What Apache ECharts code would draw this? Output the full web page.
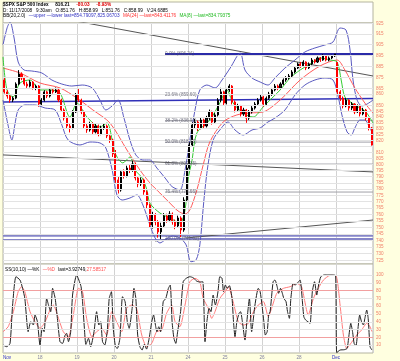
<!DOCTYPE html>
<html><head><meta charset="utf-8">
<script src="https://cdn.jsdelivr.net/npm/echarts@6.0.0/dist/echarts.min.js"></script>
<style>html,body{margin:0;padding:0;background:#FFFFE0}#c{width:400px;height:361px}</style>
</head><body><div id="c"></div>
<script>
// ---- data ----
const days = ['11/17','11/18','11/19','11/20','11/21','11/24','11/25','11/26','11/28','12/01'];
const times = ['9:30','10:00','10:30','11:00','11:30','12:00','12:30','13:00','13:30','14:00','14:30','15:00','15:30'];
const dayLabels = ['Nov','18','19','20','21','24','25','26','28','Dec'];

const opens = [872.6,862.0,858.3,854.8,856.5,869.0,878.0,874.4,869.0,867.2,870.8,865.5,867.2,
851.3,854.8,862.0,858.3,863.7,862.0,863.7,854.8,846.1,839.1,832.3,830.6,844.4,
859.2,854.8,844.4,832.3,828.9,834.1,827.2,832.3,825.5,830.6,832.3,823.8,820.4,
808.7,787.4,779.3,793.9,790.6,797.1,795.5,800.4,789.0,784.1,787.4,777.7,767.4,
751.8,759.5,754.1,746.4,751.0,758.8,755.6,760.3,754.1,751.0,757.2,747.9,771.3,
797.1,816.2,833.2,835.7,830.6,837.4,832.3,839.1,844.4,835.7,841.8,854.8,862.0,
852.2,863.7,867.2,853.1,846.1,849.6,842.7,846.1,839.1,844.4,847.8,851.3,854.8,
857.5,851.3,856.5,860.1,863.7,867.2,865.5,869.0,872.6,874.4,876.2,879.8,883.4,
887.1,885.3,888.9,883.5,887.1,890.7,888.9,892.6,890.7,894.4,890.7,892.6,894.4,
888.6,862.0,856.5,849.6,854.8,847.8,851.3,844.4,849.6,842.7,846.1,839.1,830.6];
const highs = [874.5,863.5,859.5,858.0,870.5,881.5,879.5,875.5,871.0,872.5,871.5,868.5,868.0,
856.5,863.5,863.0,865.5,865.0,865.9,864.5,856.0,847.5,840.5,834.0,846.0,861.0,
864.5,856.0,845.5,834.0,836.0,835.5,834.0,833.5,832.5,834.5,833.5,825.5,821.5,
812.0,790.0,795.5,796.0,799.0,799.5,803.0,801.5,790.5,789.5,788.5,779.0,768.5,
762.0,761.0,755.5,753.5,761.0,760.5,762.5,761.5,756.0,759.0,758.5,773.5,800.0,
818.5,835.5,838.5,837.0,839.5,838.5,841.0,846.5,845.5,843.5,856.5,865.6,863.0,
865.5,868.9,868.0,854.5,851.5,850.5,848.0,847.0,846.0,849.5,853.0,856.5,859.5,
858.5,858.0,862.0,865.5,869.0,868.5,870.5,874.0,876.0,878.0,881.5,885.0,888.5,
889.0,890.5,889.5,888.5,892.5,891.5,894.0,893.5,896.0,895.0,894.0,895.5,896.3,
888.6,863.5,858.0,856.5,855.5,853.0,852.0,851.0,850.5,848.0,847.0,840.0,831.5];
const lows = [860.5,856.0,852.5,853.0,855.5,868.0,872.5,867.5,865.5,866.0,864.0,863.5,849.0,
849.5,853.5,856.5,857.0,860.5,861.0,853.0,844.5,837.0,830.0,826.8,829.5,843.5,
853.0,842.5,830.5,826.5,827.5,825.5,826.0,823.5,824.5,829.0,822.0,818.0,806.2,
785.0,776.5,778.0,788.5,789.5,793.0,794.0,787.0,781.5,782.5,775.5,765.0,749.5,
749.0,751.5,742.0,741.0,749.5,753.5,754.0,752.0,748.5,749.5,742.5,746.5,770.0,
796.0,814.5,830.5,828.0,829.5,830.0,831.0,837.5,833.5,834.5,840.5,853.0,850.5,
851.0,862.0,851.0,844.0,844.5,840.5,841.0,835.0,837.5,843.0,846.5,850.0,853.5,
849.0,849.5,855.0,858.5,862.5,863.5,864.5,868.0,871.0,873.0,875.0,878.5,882.5,
883.5,884.5,881.5,882.5,886.0,887.5,888.0,889.0,890.0,889.5,889.5,891.5,893.5,
860.0,854.0,847.5,848.5,845.5,846.0,842.5,843.5,840.5,841.5,837.0,828.5,815.7];
const closes = [862.0,858.3,854.8,856.5,869.0,878.0,874.4,869.0,867.2,870.8,865.5,867.2,851.3,
854.8,862.0,858.3,863.7,862.0,863.7,854.8,846.1,839.1,832.3,830.6,844.4,859.2,
854.8,844.4,832.3,828.9,834.1,827.2,832.3,825.5,830.6,832.3,823.8,820.4,808.7,
787.4,779.3,793.9,790.6,797.1,795.5,800.4,789.0,784.1,787.4,777.7,767.4,751.8,
759.5,754.1,746.4,751.0,758.8,755.6,760.3,754.1,751.0,757.2,747.9,771.3,797.1,
816.2,833.2,835.7,830.6,837.4,832.3,839.1,844.4,835.7,841.8,854.8,862.0,852.2,
863.7,867.2,853.1,846.1,849.6,842.7,846.1,839.1,844.4,847.8,851.3,854.8,857.5,
851.3,856.5,860.1,863.7,867.2,865.5,869.0,872.6,874.4,876.2,879.8,883.4,887.1,
885.3,888.9,883.5,887.1,890.7,888.9,892.6,890.7,894.4,890.7,892.6,894.4,896.2,
862.0,856.5,849.6,854.8,847.8,851.3,844.4,849.6,842.7,846.1,839.1,830.6,816.2];
const lastValue = 816.21;

// overlays: [day position, price]
const upperBB = [[0,904.6],[0.11,920.5],[0.19,926.2],[0.30,911.1],[0.41,888.9],[0.57,881.6],[0.78,880.7],[1.05,878.9],[1.32,872.6],[1.59,869.0],[1.86,867.2],[2.14,868.1],[2.41,865.5],[2.62,854.8],[2.78,846.1],[2.95,849.6],[3.11,854.8],[3.27,839.1],[3.43,820.4],[3.59,807.9],[3.78,803.7],[3.97,803.7],[4.16,797.1],[4.38,789.0],[4.57,782.0],[4.78,779.3],[4.92,795.5],[5.05,820.4],[5.19,846.1],[5.32,863.7],[5.51,868.1],[5.73,865.5],[5.92,872.6],[6.14,883.4],[6.41,897.2],[6.54,881.6],[6.73,874.4],[6.95,870.8],[7.16,868.1],[7.35,874.4],[7.62,883.4],[7.89,890.7],[8.16,898.1],[8.43,901.8],[8.70,904.6],[8.92,907.4],[9.11,920.5],[9.27,918.6],[9.38,899.9],[9.46,872.6],[9.57,854.8],[9.70,849.6],[9.84,851.3],[10,854.8]];
const lowerBB = [[0,854.8],[0.135,833.2],[0.24,820.4],[0.32,833.2],[0.41,846.1],[0.59,850.5],[0.86,850.5],[1.14,847.8],[1.41,846.1],[1.59,833.2],[1.76,820.4],[2.08,816.2],[2.35,818.7],[2.62,817.9],[2.78,813.7],[2.95,795.5],[3.08,775.3],[3.22,771.3],[3.43,772.9],[3.62,775.3],[3.78,767.4],[3.97,751.8],[4.11,741.8],[4.24,738.0],[4.38,740.3],[4.57,743.3],[4.78,741.8],[4.95,736.5],[5.08,723.9],[5.22,725.3],[5.32,736.5],[5.43,771.3],[5.54,799.6],[5.68,820.4],[5.86,828.9],[6.08,835.7],[6.27,828.9],[6.49,824.6],[6.73,828.9],[6.95,830.6],[7.16,835.7],[7.35,839.1],[7.62,846.1],[7.89,859.2],[8.16,868.1],[8.43,872.6],[8.70,874.4],[8.92,872.6],[9.05,859.2],[9.16,841.8],[9.30,827.2],[9.41,824.6],[9.51,830.6],[9.65,837.4],[9.78,837.4],[9.89,832.3],[10,825.1]];
const ma24 = [[0,883.4],[0.46,878.9],[1.0,869.9],[1.54,865.5],[2.0,856.5],[2.43,846.1],[2.89,834.9],[3.35,812.0],[3.70,795.5],[3.97,785.0],[4.24,776.9],[4.51,768.9],[4.73,762.7],[4.92,760.3],[5.05,763.5],[5.24,779.3],[5.41,799.6],[5.59,818.7],[5.95,835.7],[6.32,841.8],[6.68,843.5],[7.03,844.4],[7.49,854.8],[8.03,872.6],[8.57,885.3],[9.03,890.7],[9.24,881.6],[9.51,865.5],[9.78,852.2],[10,843.4]];
const ma8 = [[0,893.5],[0.108,863.7],[0.27,857.5],[0.46,869.9],[0.73,872.6],[1.0,863.7],[1.27,863.7],[1.54,861.0],[1.81,840.0],[2.0,852.2],[2.27,840.0],[2.62,831.5],[2.81,834.9],[3.03,809.5],[3.24,801.3],[3.43,806.2],[3.57,795.5],[3.76,789.0],[3.89,779.3],[3.97,768.9],[4.24,761.1],[4.51,757.2],[4.78,753.3],[4.92,763.5],[5.0,787.4],[5.11,803.7],[5.24,826.3],[5.59,837.4],[5.86,852.2],[6.05,863.7],[6.22,852.2],[6.49,843.5],[6.76,840.0],[7.03,848.7],[7.30,857.5],[7.49,863.7],[7.76,874.4],[8.03,881.6],[8.30,887.1],[8.57,892.6],[8.84,890.7],[9.03,888.9],[9.14,872.6],[9.24,857.5],[9.43,852.2],[9.65,847.8],[9.81,844.4],[10,834.8]];

const trendA = [[1.95,927.2],[10,876.2]];
const trendB = [[0,807.9],[10,793.9]];
const trendC = [[4.11,739.5],[10,755.6]];
const blueLevel = [[0,853.1],[10,856.1]];
const supportA = [[0,743.4],[10,743.4]];
const supportB = [[0,740.2],[10,740.2]];

const fibStart = 4.38;
const fibLevels = [896.24,859.60,836.91,818.63,800.35,777.66,741.02];
const fibNames = ['0.0% (896.24)','23.6% (859.60)','38.2% (836.91)','50.0% (818.63)','61.8% (800.35)','76.4% (777.66)','100.0% (741.02)'];

const priceTicks = [925,915,905,895,885,875,865,860,850,845,840,835,830,825,820,815,810,805,800,795,790,785,780,775,770,765,760,755,750,745,740,735,730,725];
const stochTicks = [100,90,80,70,60,50,40,30,20,10];

const stochK = [[0,10.2],[0.10,8.1],[0.19,12.3],[0.26,61.5],[0.35,97.8],[0.46,93.5],[0.53,82.9],[0.59,70],[0.68,27.3],[0.75,40.1],[0.82,35.9],[0.865,48.7],[0.93,40.1],[1.0,10.2],[1.06,31.6],[1.11,27.3],[1.18,70],[1.23,61.5],[1.29,53],[1.34,82.9],[1.41,70],[1.47,44.4],[1.54,14.5],[1.61,12.3],[1.68,23],[1.72,25.2],[1.77,14.5],[1.83,27.3],[1.88,74.3],[1.99,100],[2.05,93.5],[2.11,85],[2.15,65.8],[2.20,31.6],[2.24,11],[2.31,18.8],[2.37,8.1],[2.46,27.3],[2.53,53],[2.59,35.9],[2.64,40.1],[2.69,14.5],[2.75,10.2],[2.82,29.4],[2.87,70],[2.93,78.6],[2.98,31.6],[3.04,8.1],[3.09,5.9],[3.16,18.8],[3.23,72.2],[3.30,65.8],[3.36,40.1],[3.41,31.6],[3.49,57.2],[3.54,82.9],[3.59,70],[3.64,23],[3.70,8.1],[3.76,3.8],[3.82,11],[3.88,5],[3.95,18.8],[4.02,40.1],[4.07,48.7],[4.12,35.9],[4.16,27.3],[4.21,33.7],[4.26,27.3],[4.33,65.8],[4.40,70],[4.47,82.9],[4.52,87.1],[4.57,40.1],[4.62,18.8],[4.67,12.3],[4.72,27.3],[4.80,53],[4.87,91.4],[4.95,95.7],[5.05,97.8],[5.14,96.5],[5.23,92.3],[5.32,91],[5.40,91.4],[5.46,14.5],[5.51,40.1],[5.57,57.2],[5.62,53],[5.68,74.3],[5.74,61.5],[5.81,78.6],[5.86,97.8],[5.92,95.7],[5.96,78.6],[6.01,87.1],[6.06,82.9],[6.12,86.3],[6.19,70],[6.23,40.1],[6.27,20.9],[6.32,40.1],[6.38,50.8],[6.42,53],[6.47,40.1],[6.54,16.6],[6.59,40.1],[6.66,70],[6.72,27.3],[6.81,61.5],[6.90,82.9],[6.95,78.6],[7.0,61.5],[7.05,40.1],[7.09,23],[7.14,27.3],[7.18,48.7],[7.22,53],[7.30,91.4],[7.35,93.5],[7.41,85],[7.45,76.5],[7.50,82.9],[7.55,76.5],[7.59,70],[7.65,65.8],[7.69,53],[7.74,44.4],[7.78,70],[7.84,89.3],[7.89,87.1],[7.95,89.3],[8.03,93.5],[8.07,78.6],[8.13,46.5],[8.18,42.3],[8.24,40.1],[8.30,38],[8.36,78.6],[8.42,91.4],[8.48,74.3],[8.53,87.1],[8.59,97.8],[8.68,100],[8.79,100],[8.91,100],[8.99,99.1],[9.02,0.5],[9.11,3.8],[9.22,4.2],[9.30,5.9],[9.34,18.8],[9.40,38],[9.45,26.4],[9.49,12.3],[9.54,9.3],[9.59,29.4],[9.64,48.7],[9.69,40.1],[9.74,35.9],[9.78,44.4],[9.83,55.1],[9.87,44.4],[9.92,8.1],[9.97,3.9]];
const stochD = [[0,27.3],[0.14,33.7],[0.28,53],[0.41,78.6],[0.50,85],[0.59,78.6],[0.73,53],[0.865,40.1],[1.0,31.6],[1.14,40.1],[1.27,55.1],[1.36,61.5],[1.50,44.4],[1.63,27.3],[1.77,20.9],[1.90,48.7],[2.04,82.9],[2.15,78.6],[2.26,44.4],[2.40,20.9],[2.53,27.3],[2.67,31.6],[2.80,23],[2.94,53],[3.07,40.1],[3.21,27.3],[3.34,57.2],[3.48,61.5],[3.61,57.2],[3.75,23],[3.88,8.1],[4.02,12.3],[4.15,27.3],[4.29,29.4],[4.42,50.8],[4.56,61.5],[4.65,40.1],[4.78,33.7],[4.92,61.5],[5.05,91.4],[5.19,95.7],[5.32,91.4],[5.41,70],[5.55,57.2],[5.64,44.4],[5.73,53],[5.86,70],[6.0,78.6],[6.09,85],[6.22,65.8],[6.36,40.1],[6.50,35.9],[6.63,38],[6.77,53],[6.90,61.5],[7.04,65.8],[7.17,46.5],[7.26,57.2],[7.40,76.5],[7.58,82.9],[7.76,85],[7.94,89.3],[8.07,85],[8.25,48.7],[8.39,70],[8.52,82.9],[8.66,93.5],[8.84,99.5],[9.0,99.1],[9.11,61.5],[9.20,23],[9.29,5.9],[9.42,13.6],[9.56,23],[9.69,29.4],[9.83,38],[9.92,33.7],[9.97,27.6]];

// ---- build ----
const categories = [];
days.forEach(d => times.forEach(t => categories.push(d + ' ' + t)));
const candles = opens.map((o, i) => [o, closes[i], lows[i], highs[i]]);

const FONT = 'Liberation Sans';
const AXIS_TXT = '#F0806A';
const BORDER = '#B4B4A0';

function mk(data, color, width, z, smooth, xi, yi) {
  return {type: 'line', xAxisIndex: xi === undefined ? 1 : xi, yAxisIndex: yi === undefined ? 0 : yi,
    data: data, showSymbol: false, symbol: 'none', smooth: smooth || false,
    lineStyle: {color: color, width: width}, z: z, silent: true, animation: false};
}

const series = [];
series.push({type: 'line', xAxisIndex: 1, yAxisIndex: 0, data: [[0, 800]], symbol: 'none', showSymbol: false,
  lineStyle: {opacity: 0}, z: 1, silent: true, animation: false,
  markLine: {symbol: 'none', silent: true, animation: false,
    lineStyle: {color: '#E3E3E3', width: 1, type: 'solid'},
    label: {position: 'end', distance: 3, color: AXIS_TXT, fontSize: 4.6, fontFamily: FONT,
      formatter: p => (p.value === 815 ? '' : String(p.value))},
    data: priceTicks.map(v => ({yAxis: v}))}});
series.push(mk(supportA, '#8585C8', 2, 2));
series.push(mk(supportB, '#8585C8', 2, 2));
series.push(mk(blueLevel, '#3030B8', 1.5, 2));
series.push(mk(trendA, '#555555', 1, 2));
series.push(mk(trendB, '#555555', 1, 2));
series.push(mk(trendC, '#555555', 1, 2));
fibLevels.forEach((v, i) => {
  const first = i === 0, last = i === fibLevels.length - 1;
  series.push(mk([[fibStart, v], [10, v]], first ? '#2A2AA8' : (last ? '#8585C8' : '#A0A0A8'), first ? 2 : (last ? 2 : 1), 2));
});
series.push(mk(upperBB, '#5A5AC0', 1, 3, 0.3));
series.push(mk(lowerBB, '#5A5AC0', 1, 3, 0.3));
series.push(mk(ma24, '#FF5A5A', 1, 3, 0.3));
series.push(mk(ma8, '#33CC33', 1, 3, 0.3));
series.push({type: 'candlestick', xAxisIndex: 0, yAxisIndex: 0, data: candles, barWidth: 1.6, z: 4,
  silent: true, animation: false,
  itemStyle: {color: '#222222', color0: '#FF0000', borderColor: '#000000', borderColor0: '#FF0000', borderWidth: 1}});
series.push({type: 'scatter', xAxisIndex: 1, yAxisIndex: 0, symbolSize: 0, z: 5, silent: true, animation: false,
  data: fibLevels.map((v, i) => ({value: [fibStart, v], label: {formatter: fibNames[i]}})),
  label: {show: true, position: 'right', distance: 0, fontSize: 4.6, color: '#555566', fontFamily: FONT}});
series.push({type: 'line', xAxisIndex: 1, yAxisIndex: 0, data: [[10, lastValue]], symbol: 'none', showSymbol: false,
  lineStyle: {opacity: 0}, z: 6, silent: true, animation: false,
  markLine: {symbol: 'none', silent: true, animation: false, lineStyle: {opacity: 0},
    label: {position: 'end', distance: 1, formatter: String(lastValue), backgroundColor: '#000', color: '#fff',
      fontSize: 5, fontWeight: 'bold', fontFamily: FONT, padding: [1, 3, 1, 2]},
    data: [{yAxis: lastValue}]}});
series.push({type: 'line', xAxisIndex: 2, yAxisIndex: 1, data: [[0, 50]], symbol: 'none', showSymbol: false,
  lineStyle: {opacity: 0}, z: 1, silent: true, animation: false,
  markLine: {symbol: 'none', silent: true, animation: false, label: {show: false},
    data: stochTicks.map(v => ({yAxis: v, lineStyle: {color: (v === 20 || v === 80) ? '#F2A0A0' : '#E3E3E3', width: 1, type: 'solid'}}))}});
series.push(mk(stochD, '#FF7A7A', 1, 3, 0.2, 2, 1));
series.push(mk(stochK, '#222222', 1, 4, 0.2, 2, 1));

function txt(x, y, text, rich) {
  return {type: 'text', x: x, y: y, z: 10, silent: true,
    style: {text: text, rich: rich, verticalAlign: 'middle', align: 'left'}};
}
const R = (color, bold) => ({fill: color, fontSize: 4.7, fontFamily: FONT, fontWeight: bold ? 'bold' : 'normal'});

const option = {
  backgroundColor: '#FFFFE0',
  animation: false,
  textStyle: {fontFamily: FONT},
  graphic: [
    {type: 'rect', shape: {x: 3, y: 2, width: 370, height: 21}, style: {fill: '#fff', stroke: BORDER, lineWidth: 1}, z: -1, silent: true},
    txt(3, 4.8, '{b|$SPX S&P 500 Index}  {b|816.21}  {r|-80.03}  {r|-8.93%}', {b: R('#000', true), r: R('#E00000', true)}),
    txt(3, 10.3, '{n|D: 11/17/2008   9:30am   O:851.76   H:858.99   L:851.76   C:858.99   V:24.6885}', {n: R('#000')}),
    txt(3, 16.2, '{n|BB(20,2.0)} {u|\u2014upper \u2014lower last=854.79097,825.06703} {r|MA(24) \u2014last=843.41176} {g|MA(8) \u2014last=834.79375}',
      {n: R('#000'), u: R('#3030C0'), r: R('#FF3030'), g: R('#22BB22')}),
    txt(5, 269.5, '{n|SS(10,10) \u2014%K} {r|\u2014%D} {n|last=3.92749,}{r|27.58517}', {n: R('#000'), r: R('#FF5050')})
  ],
  grid: [
    {left: 3, right: 27, top: 23, height: 241, show: true, backgroundColor: '#fff', borderColor: BORDER, borderWidth: 1},
    {left: 3, right: 27, top: 264, height: 89, show: true, backgroundColor: '#fff', borderColor: BORDER, borderWidth: 1}
  ],
  xAxis: [
    {type: 'category', gridIndex: 0, data: categories, boundaryGap: true, show: false},
    {type: 'value', gridIndex: 0, min: 0, max: 10, interval: 1, axisLabel: {show: false}, axisLine: {show: false}, axisTick: {show: false},
      splitLine: {show: true, lineStyle: {color: '#D2D2D2', width: 1}}},
    {type: 'value', gridIndex: 1, min: 0, max: 10, interval: 1, axisLine: {show: false}, axisTick: {show: false},
      splitLine: {show: true, lineStyle: {color: '#D2D2D2', width: 1}},
      axisLabel: {show: true, margin: 2, fontSize: 4.6, fontFamily: FONT, alignMinLabel: 'left', showMaxLabel: false,
        formatter: v => (dayLabels[v] !== undefined ? dayLabels[v] : ''),
        color: v => ((Number(v) === 0 || Number(v) === 9) ? '#2F2FC8' : '#8080A0')}}
  ],
  yAxis: [
    {type: 'log', logBase: 10, gridIndex: 0, min: 722.2, max: 925.26, position: 'right', axisLabel: {show: false},
      axisLine: {show: false}, axisTick: {show: false}, splitLine: {show: false}},
    {type: 'value', gridIndex: 1, min: 0, max: 114.1, interval: 10, position: 'right', axisLine: {show: false}, axisTick: {show: false},
      splitLine: {show: false},
      axisLabel: {show: true, margin: 3, fontSize: 4.6, fontFamily: FONT, color: AXIS_TXT,
        formatter: v => ((v >= 10 && v <= 100) ? String(v) : '')}}
  ],
  series: series
};
const chart = echarts.init(document.getElementById('c'), null, {renderer: 'canvas'});
chart.setOption(option);
</script></body></html>
